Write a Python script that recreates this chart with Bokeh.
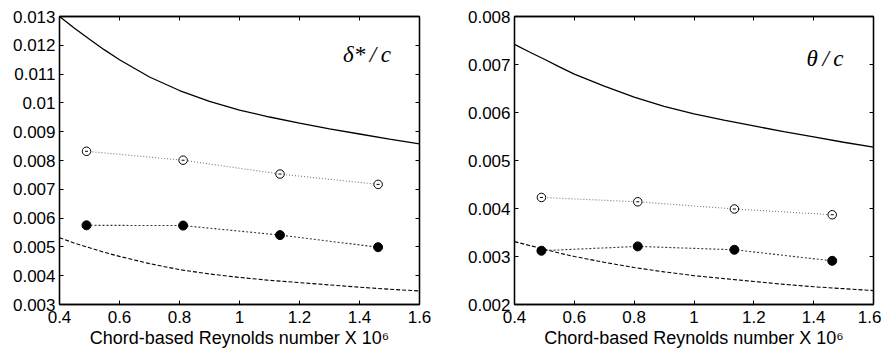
from bokeh.plotting import figure
from bokeh.layouts import row
from bokeh.models import LinearAxis, FixedTicker, Label
from bokeh.embed import file_html
from bokeh.resources import INLINE

# ---- data ----
re_points = [0.49, 0.812, 1.135, 1.462]
re_curve = [0.4, 0.45, 0.5, 0.55, 0.6, 0.7, 0.8, 0.9, 1.0, 1.1, 1.2, 1.3, 1.4, 1.5, 1.6]

# delta*/c panel
dstar_open = [0.00832, 0.00801, 0.00753, 0.00717]
dstar_filled = [0.00575, 0.00574, 0.00541, 0.00499]
dstar_upper = [0.01300, 0.01259, 0.01221, 0.01184, 0.01150, 0.01090, 0.01043, 0.01005,
               0.00975, 0.00951, 0.00930, 0.00910, 0.00892, 0.00874, 0.00858]
dstar_lower = [0.00532, 0.00513, 0.00497, 0.00481, 0.00467, 0.00442, 0.00421, 0.00406,
               0.00394, 0.00384, 0.00376, 0.00368, 0.00360, 0.00353, 0.00347]

# theta/c panel
theta_open = [0.00423, 0.00414, 0.00399, 0.00387]
theta_filled = [0.00312, 0.00321, 0.00314, 0.00291]
theta_upper = [0.00742, 0.00726, 0.00711, 0.00695, 0.00680, 0.00655, 0.00632, 0.00613,
               0.00597, 0.00584, 0.00572, 0.00560, 0.00549, 0.00538, 0.00528]
theta_lower = [0.00331, 0.00323, 0.00315, 0.00307, 0.00300, 0.00288, 0.00277, 0.00268,
               0.00260, 0.00254, 0.00248, 0.00242, 0.00237, 0.00233, 0.00229]

x_ticks = [0.4, 0.6, 0.8, 1.0, 1.2, 1.4, 1.6]
x_tick_labels = ["0.4", "0.6", "0.8", "1", "1.2", "1.4", "1.6"]
dstar_ticks = [0.003, 0.004, 0.005, 0.006, 0.007, 0.008, 0.009, 0.010, 0.011, 0.012, 0.013]
dstar_tick_labels = ["0.003", "0.004", "0.005", "0.006", "0.007", "0.008", "0.009", "0.01",
                     "0.011", "0.012", "0.013"]
theta_ticks = [0.002, 0.003, 0.004, 0.005, 0.006, 0.007, 0.008]
theta_tick_labels = ["0.002", "0.003", "0.004", "0.005", "0.006", "0.007", "0.008"]

x_label = "Chord-based Reynolds number X 10\u2076"

FONT = "Liberation Sans"
FS = "17px"


def style_axis(ax, ticks, labels=None):
    ax.ticker = FixedTicker(ticks=ticks)
    ax.major_tick_in = 4
    ax.major_tick_out = 0
    ax.minor_tick_line_color = None
    ax.axis_line_color = "black"
    ax.axis_line_width = 1.3
    ax.major_tick_line_color = "black"
    if labels is None:
        ax.major_label_overrides = {t: "" for t in ticks}
        ax.major_label_standoff = 0
        ax.major_label_text_font_size = "1px"
    else:
        ax.major_label_overrides = dict(zip(ticks, labels))
        ax.major_label_text_font = FONT
        ax.major_label_text_font_size = FS
        ax.major_label_text_color = "black"


def panel(yr, yticks, ylabels, y_open, y_filled, y_up, y_low, title, tx, ty,
          frame_w, border_left, border_right):
    p = figure(frame_width=frame_w, frame_height=288, x_range=(0.4, 1.6), y_range=yr,
               output_backend="svg", toolbar_location=None,
               min_border_left=border_left, min_border_right=border_right,
               min_border_top=16, min_border_bottom=40)
    p.grid.visible = False
    p.outline_line_color = "black"
    p.outline_line_width = 1.3
    p.background_fill_color = "white"
    p.border_fill_color = "white"

    style_axis(p.xaxis[0], x_ticks, x_tick_labels)
    p.xaxis.major_label_standoff = 6
    p.xaxis.axis_label = x_label
    p.xaxis.axis_label_text_font = FONT
    p.xaxis.axis_label_text_font_size = "18px"
    p.xaxis.axis_label_text_font_style = "normal"
    p.xaxis.axis_label_text_color = "black"
    p.xaxis.axis_label_standoff = 2
    style_axis(p.yaxis[0], yticks, ylabels)
    p.yaxis.major_label_standoff = 4

    top = LinearAxis()
    style_axis(top, x_ticks)
    p.add_layout(top, "above")
    right = LinearAxis()
    style_axis(right, yticks)
    p.add_layout(right, "right")

    p.line(re_curve, y_up, line_color="black", line_width=1.3)
    p.line(re_curve, y_low, line_color="black", line_width=1.1, line_dash="4 2")
    p.line(re_points, y_open, line_color="#777777", line_width=1.1, line_dash="1 2")
    p.line(re_points, y_filled, line_color="#333333", line_width=1.1, line_dash="2 2")
    p.scatter(re_points, y_open, marker="circle", size=8.5, fill_color="white",
              line_color="black", line_width=1)
    p.scatter(re_points, y_open, marker="dash", size=3, line_color="black", line_width=1)
    p.scatter(re_points, y_filled, marker="circle", size=9, fill_color="black",
              line_color="black")

    p.add_layout(Label(x=tx, y=ty, text=title, text_font="Liberation Serif",
                       text_font_style="italic", text_font_size="23px",
                       text_align="right", text_baseline="middle", text_color="black"))
    return p


p1 = panel((0.003, 0.013), dstar_ticks, dstar_tick_labels, dstar_open, dstar_filled,
           dstar_upper, dstar_lower, "\u03b4*\u2009/\u2009c", 1.505, 0.01168, 360, 59, 26)
p2 = panel((0.002, 0.008), theta_ticks, theta_tick_labels, theta_open, theta_filled,
           theta_upper, theta_lower, "\u03b8\u2009/\u2009c", 1.50, 0.00712, 359, 69, 8)

layout = row(p1, p2)
open("out.html", "w").write(file_html(layout, INLINE))
